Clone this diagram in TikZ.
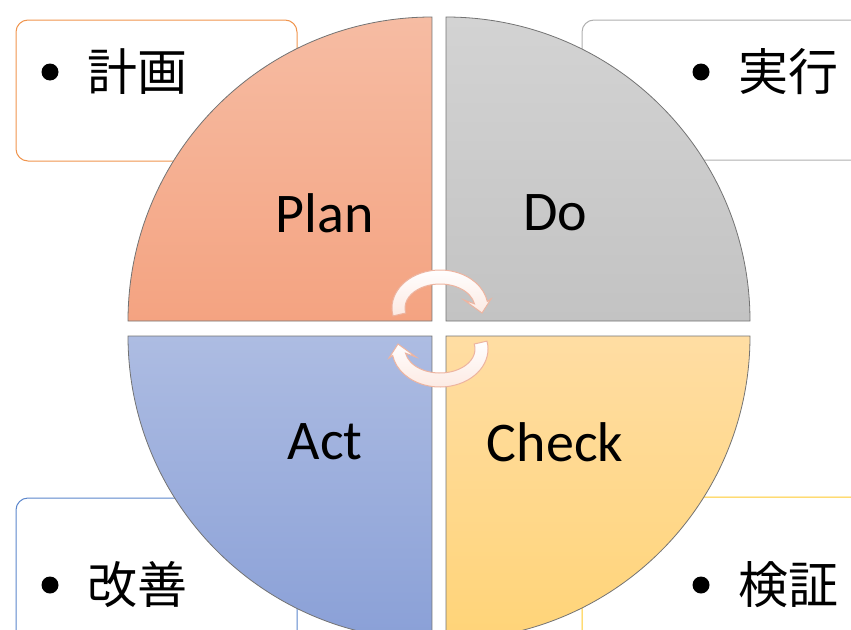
\documentclass[tikz,border=0pt]{standalone}
\usepackage{fontspec}
\usetikzlibrary{calc}
\setmainfont{Carlito}
\newfontfamily\cjk{Noto Sans CJK JP}
\definecolor{planT}{HTML}{F6BCA3}
\definecolor{planB}{HTML}{F4A381}
\definecolor{doT}{HTML}{D3D3D3}
\definecolor{doB}{HTML}{C3C3C3}
\definecolor{actT}{HTML}{ADBCE2}
\definecolor{actB}{HTML}{8AA0D7}
\definecolor{chkT}{HTML}{FFDDA3}
\definecolor{chkB}{HTML}{FFD478}
\definecolor{orgB}{HTML}{F0954E}
\definecolor{gryB}{HTML}{B0B0B0}
\definecolor{bluB}{HTML}{5B86CC}
\definecolor{yelB}{HTML}{FFC828}
\definecolor{arrL}{HTML}{EDB4A0}
\definecolor{arrF}{HTML}{FCE9E2}
\begin{document}
\begin{tikzpicture}[x=1pt,y=-1pt,
  infobox/.style={draw,line width=1pt,rounded corners=12pt,fill=white},
  quad/.style={draw=black!55,line width=0.8pt},
  lbl/.style={font=\fontsize{56}{60}\selectfont,inner sep=0pt},
  jtxt/.style={font=\cjk\fontsize{50}{54}\selectfont,inner sep=0pt,anchor=west},
  bul/.style={circle,fill=black,inner sep=0pt,minimum size=17pt}]
\useasboundingbox (0,0) rectangle (851,629);
\begin{scope}
\clip (0,0) rectangle (851,629);
% info boxes
\draw[infobox,draw=orgB] (16,20) rectangle (297,161);
\draw[infobox,draw=gryB] (582,20) rectangle (900,160);
\draw[infobox,draw=bluB] (16,498) rectangle (297,700);
\draw[infobox,draw=yelB] (582,497) rectangle (900,700);
\node[bul] (b1) at (50,72) {};
\node[jtxt] (t1) at (87,72) {計画};
\node[bul] (b2) at (701,72) {};
\node[jtxt] (t2) at (738,72) {実行};
\node[bul] (b3) at (50,585) {};
\node[jtxt] (t3) at (87,585) {改善};
\node[bul] (b4) at (701,585) {};
\node[jtxt] (t4) at (738,585) {検証};
% quadrants
\path[quad,top color=planT,bottom color=planB] (432,321) -- (128,321) arc[start angle=180,end angle=270,radius=304] -- cycle;
\path[quad,top color=doT,bottom color=doB] (446,321) -- (446,17) arc[start angle=270,end angle=360,radius=304] -- cycle;
\path[quad,top color=chkT,bottom color=chkB] (446,336) -- (750,336) arc[start angle=0,end angle=90,radius=304] -- cycle;
\path[quad,top color=actT,bottom color=actB] (432,336) -- (432,640) arc[start angle=90,end angle=180,radius=304] -- cycle;
\node[lbl] (plan) at (325,213) {Plan};
\node[lbl] (do) at (555,213) {Do};
\node[lbl] (act) at (325,442) {Act};
\node[lbl] (check) at (555,442) {Check};
% cycle arrows
\tikzset{cyc/.style={draw=arrL,line width=1pt,top color=white,bottom color=arrF}}
\path[cyc] (440,308) ++(168:48 and 38) arc[start angle=168,end angle=350,x radius=48,y radius=38]
  -- (491,299) -- (482,313) -- (464,300)
  -- ($(440,308)+(350:35 and 24)$) arc[start angle=350,end angle=168,x radius=35,y radius=24] -- cycle;
\path[cyc] (440,349) ++(348:48 and 38) arc[start angle=348,end angle=530,x radius=48,y radius=38]
  -- (389,358) -- (398,344) -- (416,357)
  -- ($(440,349)+(530:35 and 24)$) arc[start angle=530,end angle=348,x radius=35,y radius=24] -- cycle;
\end{scope}
\end{tikzpicture}
\end{document}
